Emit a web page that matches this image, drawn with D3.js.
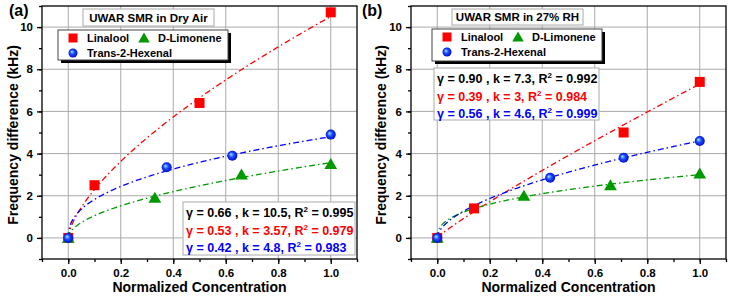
<html>
<head>
<meta charset="utf-8">
<script src="https://d3js.org/d3.v7.min.js"></script>
<style>
  body { margin: 0; padding: 0; background: white; }
  text { font-family: Arial, "Liberation Sans", sans-serif; font-weight: bold; }
</style>
</head>
<body>
<svg id="chart" width="730" height="299"></svg>
<script>
// ---- data ----
const xTicks = [0, 0.2, 0.4, 0.6, 0.8, 1.0]
const yTicks = [0, 2, 4, 6, 8, 10]
const seriesNames = ["Linalool", "D-Limonene", "Trans-2-Hexenal"]

// panel (a): dry air
const dryLinalool = [[0, 0], [0.1, 2.5], [0.5, 6.4], [1.0, 10.7]]
const dryLimonene = [[0, 0], [0.33, 1.9], [0.66, 3.0], [1.0, 3.5]]
const dryHexenal = [[0, 0], [0.375, 3.35], [0.625, 3.9], [1.0, 4.9]]
// fit parameters [gamma, k, R2] as printed
const dryFits = [[0.66, 10.5, 0.995], [0.53, 3.57, 0.979], [0.42, 4.8, 0.983]]
const dryFitText = ["γ = 0.66 , k = 10.5, R", "γ = 0.53 , k = 3.57, R", "γ = 0.42 , k = 4.8, R"]
const dryFitR2 = [" = 0.995", " = 0.979", " = 0.983"]

// panel (b): 27% RH
const rhLinalool = [[0, 0], [0.14, 1.4], [0.71, 5.0], [1.0, 7.4]]
const rhLimonene = [[0, 0], [0.33, 2.0], [0.66, 2.5], [1.0, 3.05]]
const rhHexenal = [[0, 0], [0.43, 2.85], [0.71, 3.8], [1.0, 4.6]]
const rhFits = [[0.90, 7.3, 0.992], [0.39, 3, 0.984], [0.56, 4.6, 0.999]]
const rhFitText = ["γ = 0.90 , k = 7.3, R", "γ = 0.39 , k = 3, R", "γ = 0.56 , k = 4.6, R"]
const rhFitR2 = [" = 0.992", " = 0.984", " = 0.999"]

const colors = ["#ff0000", "#009900", "#0000ff"]
const textColors = ["#000000", "#ff0000", "#0000ff"]

const panels = [
    {
        label: "(a)", title: "UWAR SMR in Dry Air", left: 42, right: 357, labelX: 9, yTitleX: 13,
        series: [dryLinalool, dryLimonene, dryHexenal], fits: dryFits,
        fitText: dryFitText, fitR2: dryFitR2,
        titleBox: [83, 9, 131, 17], legendBox: [58, 30, 170, 30], fitBox: [183, 202, 172, 53]
    },
    {
        label: "(b)", title: "UWAR SMR in 27% RH", left: 411, right: 726, labelX: 362, yTitleX: 381,
        series: [rhLinalool, rhLimonene, rhHexenal], fits: rhFits,
        fitText: rhFitText, fitR2: rhFitR2,
        titleBox: [452, 9, 131, 16], legendBox: [432, 29, 170, 32], fitBox: [434, 68, 165, 52]
    }
]
const plotTop = 6, plotBottom = 259

const svg = d3.select("#chart")

// gradient for the blue spheres
const defs = svg.append("defs")
const grad = defs.append("radialGradient").attr("id", "sphere")
    .attr("cx", "0.5").attr("cy", "0.5").attr("r", "0.55")
    .attr("fx", "0.35").attr("fy", "0.35")
grad.append("stop").attr("offset", "0%").attr("stop-color", "#9fe8ff")
grad.append("stop").attr("offset", "45%").attr("stop-color", "#1a4dff")
grad.append("stop").attr("offset", "100%").attr("stop-color", "#0000c8")

function drawMarker(g, type, cx, cy, size) {
    if (type === 0) {
        g.append("rect").attr("x", cx - size / 2).attr("y", cy - size / 2)
            .attr("width", size).attr("height", size).attr("fill", colors[0])
    } else if (type === 1) {
        const s = size * 1.1
        g.append("path")
            .attr("d", `M${cx},${cy - s * 0.55}L${cx + s * 0.58},${cy + s * 0.45}L${cx - s * 0.58},${cy + s * 0.45}Z`)
            .attr("fill", colors[1])
    } else {
        g.append("circle").attr("cx", cx).attr("cy", cy).attr("r", size / 2)
            .attr("fill", "url(#sphere)")
    }
}

panels.forEach(p => {
    const x = d3.scaleLinear().domain([-0.1, 1.1]).range([p.left, p.right])
    const y = d3.scaleLinear().domain([-1, 11]).range([plotBottom, plotTop])
    const g = svg.append("g")

    // grid
    g.selectAll(".vg").data(xTicks).enter().append("line")
        .attr("x1", d => x(d)).attr("x2", d => x(d)).attr("y1", plotTop).attr("y2", plotBottom)
        .attr("stroke", "#aaaaaa").attr("stroke-width", 1)
    g.selectAll(".hg").data(yTicks).enter().append("line")
        .attr("y1", d => y(d)).attr("y2", d => y(d)).attr("x1", p.left).attr("x2", p.right)
        .attr("stroke", "#aaaaaa").attr("stroke-width", 1)

    // axes with minor ticks
    const xAxis = d3.axisBottom(x).tickValues(xTicks).tickSize(5).tickPadding(5).tickFormat(d3.format(".1f"))
    const xMinor = d3.axisBottom(x).tickValues(d3.range(-0.1, 1.11, 0.1)).tickSize(3).tickFormat("")
    const yAxis = d3.axisLeft(y).tickValues(yTicks).tickSize(5).tickPadding(4).tickFormat(d3.format("d"))
    const yMinor = d3.axisLeft(y).tickValues(d3.range(-1, 11.1, 1)).tickSize(3).tickFormat("")

    ;[[xMinor, "b"], [xAxis, "b"], [yMinor, "l"], [yAxis, "l"]].forEach(([ax, side]) => {
        const a = g.append("g")
            .attr("transform", side === "b" ? `translate(0,${plotBottom})` : `translate(${p.left},0)`)
            .call(ax)
        a.select(".domain").remove()
        a.selectAll(".tick line").attr("stroke", "#000").attr("stroke-width", 1.3)
        a.selectAll("text").attr("fill", "#000").style("font-size", "11.5px")
            .style("font-family", "Arial, 'Liberation Sans', sans-serif").style("font-weight", "bold")
    })

    // fit curves: y = k * x^gamma
    const order = [0, 1, 2]
    order.forEach(i => {
        const [gam, k] = p.fits[i]
        const xs = d3.range(0, 1.0001, 0.0025)
        const line = d3.line().x(d => x(d)).y(d => y(k * Math.pow(d, gam)))
        g.append("path").attr("d", line(xs)).attr("fill", "none")
            .attr("stroke", colors[i]).attr("stroke-width", 1.3)
            .attr("stroke-dasharray", "6,3,1.5,3")
    })

    // markers
    order.forEach(i => {
        p.series[i].forEach(d => drawMarker(g, i, x(d[0]), y(d[1]), 10))
    })

    // frame
    g.append("rect").attr("x", p.left).attr("y", plotTop)
        .attr("width", p.right - p.left).attr("height", plotBottom - plotTop)
        .attr("fill", "none").attr("stroke", "#000").attr("stroke-width", 1.3)

    // panel label
    g.append("text").attr("x", p.labelX).attr("y", 16).text(p.label)
        .style("font-size", "16px")

    // axis titles
    g.append("text").attr("x", (p.left + p.right) / 2).attr("y", 292).attr("text-anchor", "middle")
        .style("font-size", "14px").text("Normalized Concentration")
    g.append("text").attr("transform", `translate(${p.yTitleX + 5},135) rotate(-90)`)
        .attr("text-anchor", "middle").style("font-size", "14px").text("Frequency difference (kHz)")

    // title box
    const tb = p.titleBox
    g.append("rect").attr("x", tb[0]).attr("y", tb[1]).attr("width", tb[2]).attr("height", tb[3])
        .attr("fill", "#fff").attr("stroke", "#aaa").attr("stroke-width", 1)
    g.append("text").attr("x", tb[0] + tb[2] / 2).attr("y", tb[1] + tb[3] / 2 + 4)
        .attr("text-anchor", "middle").style("font-size", "11.5px").text(p.title)

    // legend box with shadow
    const lb = p.legendBox
    g.append("rect").attr("x", lb[0] + 3).attr("y", lb[1] + 3).attr("width", lb[2]).attr("height", lb[3])
        .attr("fill", "#000")
    g.append("rect").attr("x", lb[0]).attr("y", lb[1]).attr("width", lb[2]).attr("height", lb[3])
        .attr("fill", "#fff").attr("stroke", "#444").attr("stroke-width", 1)
    const legPos = [[15, 8], [86, 8], [15, 23]]
    seriesNames.forEach((name, i) => {
        const [dx, dy] = legPos[i]
        drawMarker(g, i, lb[0] + dx, lb[1] + dy, 9)
        g.append("text").attr("x", lb[0] + dx + 14).attr("y", lb[1] + dy + 4)
            .style("font-size", "11px").text(name)
    })

    // fit text box
    const fb = p.fitBox
    g.append("rect").attr("x", fb[0]).attr("y", fb[1]).attr("width", fb[2]).attr("height", fb[3])
        .attr("fill", "#fff").attr("stroke", "#aaa").attr("stroke-width", 1)
    p.fitText.forEach((t, i) => {
        const tx = g.append("text").attr("x", fb[0] + 3).attr("y", fb[1] + 15 + i * 17.5)
            .attr("fill", textColors[i]).style("font-size", "12.5px")
        tx.append("tspan").text(t)
        tx.append("tspan").attr("dy", -5).style("font-size", "8px").text("2")
        tx.append("tspan").attr("dy", 5).text(p.fitR2[i])
    })
})
</script>
</body>
</html>
